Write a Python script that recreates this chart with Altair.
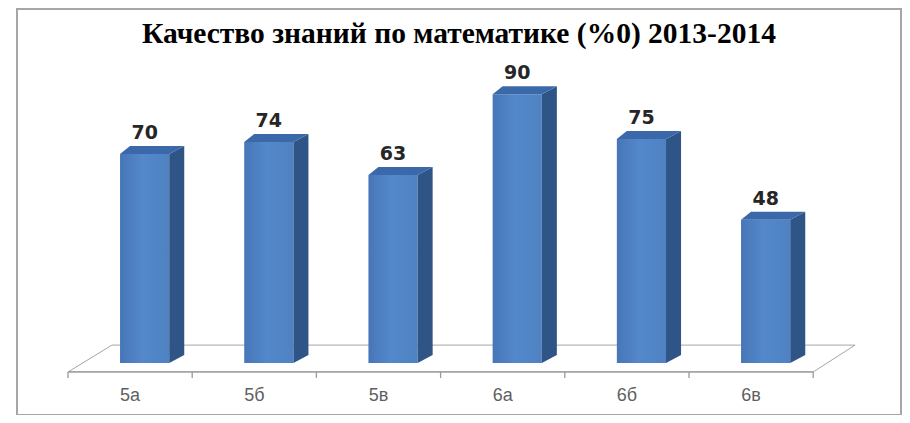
import altair as alt
import pandas as pd

# ---- data ----
categories = ["5а", "5б", "5в", "6а", "6б", "6в"]
values = [70, 74, 63, 90, 75, 48]
title_text = "Качество знаний по математике (%0) 2013-2014"

# ---- geometry constants (in scale units) ----
BAR_L, BAR_R = 0.419, 0.815      # front face within category band
DX_R, DX_L, DY = 0.121, 0.08, 2.68  # 3D depth offsets
FLOOR_FRONT, FLOOR_BACK = -3.0, 6.0
FLOOR_DXL, FLOOR_DXR = 0.354, 0.337
TICK_LEN = 2.0
LABEL_Y = -11.0

n = len(categories)
xs = alt.Scale(domain=[-0.4106, 6.7069], nice=False, zero=False)
ys = alt.Scale(domain=[-17.41, 118.55], nice=False, zero=False)

front_rows, side_rows, top_rows = [], [], []
for i, (c, v) in enumerate(zip(categories, values)):
    front_rows.append({"cat": c, "x": i + BAR_L, "x2": i + BAR_R, "y": 0, "y2": v,
                       "xc": i + (BAR_L + BAR_R) / 2, "v": v, "xl": i + 0.5})
    side_rows += [
        {"cat": c, "x": i + BAR_R, "y": v, "y2": 0},
        {"cat": c, "x": i + BAR_R + DX_R, "y": v + DY, "y2": DY},
    ]
    top_rows += [
        {"cat": c, "x": i + BAR_L, "y": v, "y2": v},
        {"cat": c, "x": i + BAR_L + DX_L, "y": v + DY, "y2": v},
        {"cat": c, "x": i + BAR_R, "y": v + DY, "y2": v},
        {"cat": c, "x": i + BAR_R + DX_R, "y": v + DY, "y2": v + DY},
    ]
front = pd.DataFrame(front_rows)
side = pd.DataFrame(side_rows)
top = pd.DataFrame(top_rows)

floor = pd.DataFrame([
    {"g": "floor", "x": 0.0, "y": FLOOR_FRONT, "y2": FLOOR_FRONT},
    {"g": "floor", "x": FLOOR_DXL, "y": FLOOR_BACK, "y2": FLOOR_FRONT},
    {"g": "floor", "x": float(n), "y": FLOOR_BACK, "y2": FLOOR_FRONT},
    {"g": "floor", "x": n + FLOOR_DXR, "y": FLOOR_BACK, "y2": FLOOR_BACK},
])
ticks = pd.DataFrame({"x": [float(k) for k in range(n + 1)]})
ticks["y"] = FLOOR_FRONT
ticks["y2"] = FLOOR_FRONT - TICK_LEN
axisline = pd.DataFrame([{"x": 0.0, "x2": float(n), "y": FLOOR_FRONT}])

X = lambda f="x": alt.X(f"{f}:Q", scale=xs, axis=None)
Y = lambda f="y": alt.Y(f"{f}:Q", scale=ys, axis=None, stack=None)

floor_l = alt.Chart(floor).mark_area(fill="white", stroke="#A6A6A6", strokeWidth=1,
                                     interpolate="linear", orient="vertical").encode(
    x=X(), y=Y(), y2="y2:Q", detail="g:N")

axis_l = alt.Chart(axisline).mark_rule(color="#9A9A9A", strokeWidth=1.3).encode(
    x=X(), x2="x2:Q", y=Y())
tick_l = alt.Chart(ticks).mark_rule(color="#9A9A9A", strokeWidth=1.3).encode(
    x=X(), y=Y(), y2="y2:Q")

grad = alt.Gradient(gradient="linear", x1=0, x2=1, y1=0, y2=0,
                    stops=[alt.GradientStop(color="#4676B8", offset=0),
                           alt.GradientStop(color="#5388CA", offset=0.45),
                           alt.GradientStop(color="#4E82C3", offset=1)])
front_l = alt.Chart(front).mark_rect(color=grad).encode(
    x=X(), x2="x2:Q", y=Y(), y2="y2:Q")

side_l = alt.Chart(side).mark_area(color="#2F5587", interpolate="linear",
                                   orient="vertical").encode(
    x=X(), y=Y(), y2="y2:Q", detail="cat:N")
top_l = alt.Chart(top).mark_area(color="#3A68A8", interpolate="linear",
                                 orient="vertical").encode(
    x=X(), y=Y(), y2="y2:Q", detail="cat:N")

val_l = alt.Chart(front).mark_text(font="DejaVu Sans", fontWeight="bold", fontSize=19,
                                   color="#262626", baseline="bottom", dy=-11).encode(
    x=X("xc"), y=Y("v"), text="v:Q")

cat_l = alt.Chart(front).transform_calculate(ly=str(LABEL_Y)).mark_text(
    font="Liberation Sans", fontSize=18, color="#5F5F5F", baseline="middle").encode(
    x=X("xl"), y=Y("ly"), text="cat:N")

chart = alt.layer(floor_l, axis_l, tick_l, front_l, side_l, top_l, val_l, cat_l).properties(
    width=884, height=406,
    padding={"left": 9, "top": 1, "right": 1, "bottom": 0},
    autosize=alt.AutoSizeParams(type="none"),
    title=alt.TitleParams(title_text, font="Liberation Serif", fontSize=29.5, fontWeight="bold",
                          color="#000000", anchor="middle", baseline="alphabetic",
                          frame="group", offset=-63),
).configure_view(stroke="#A6A6A6", strokeWidth=2)

chart.save("out.html", embed_options={"renderer": "svg", "actions": False})
